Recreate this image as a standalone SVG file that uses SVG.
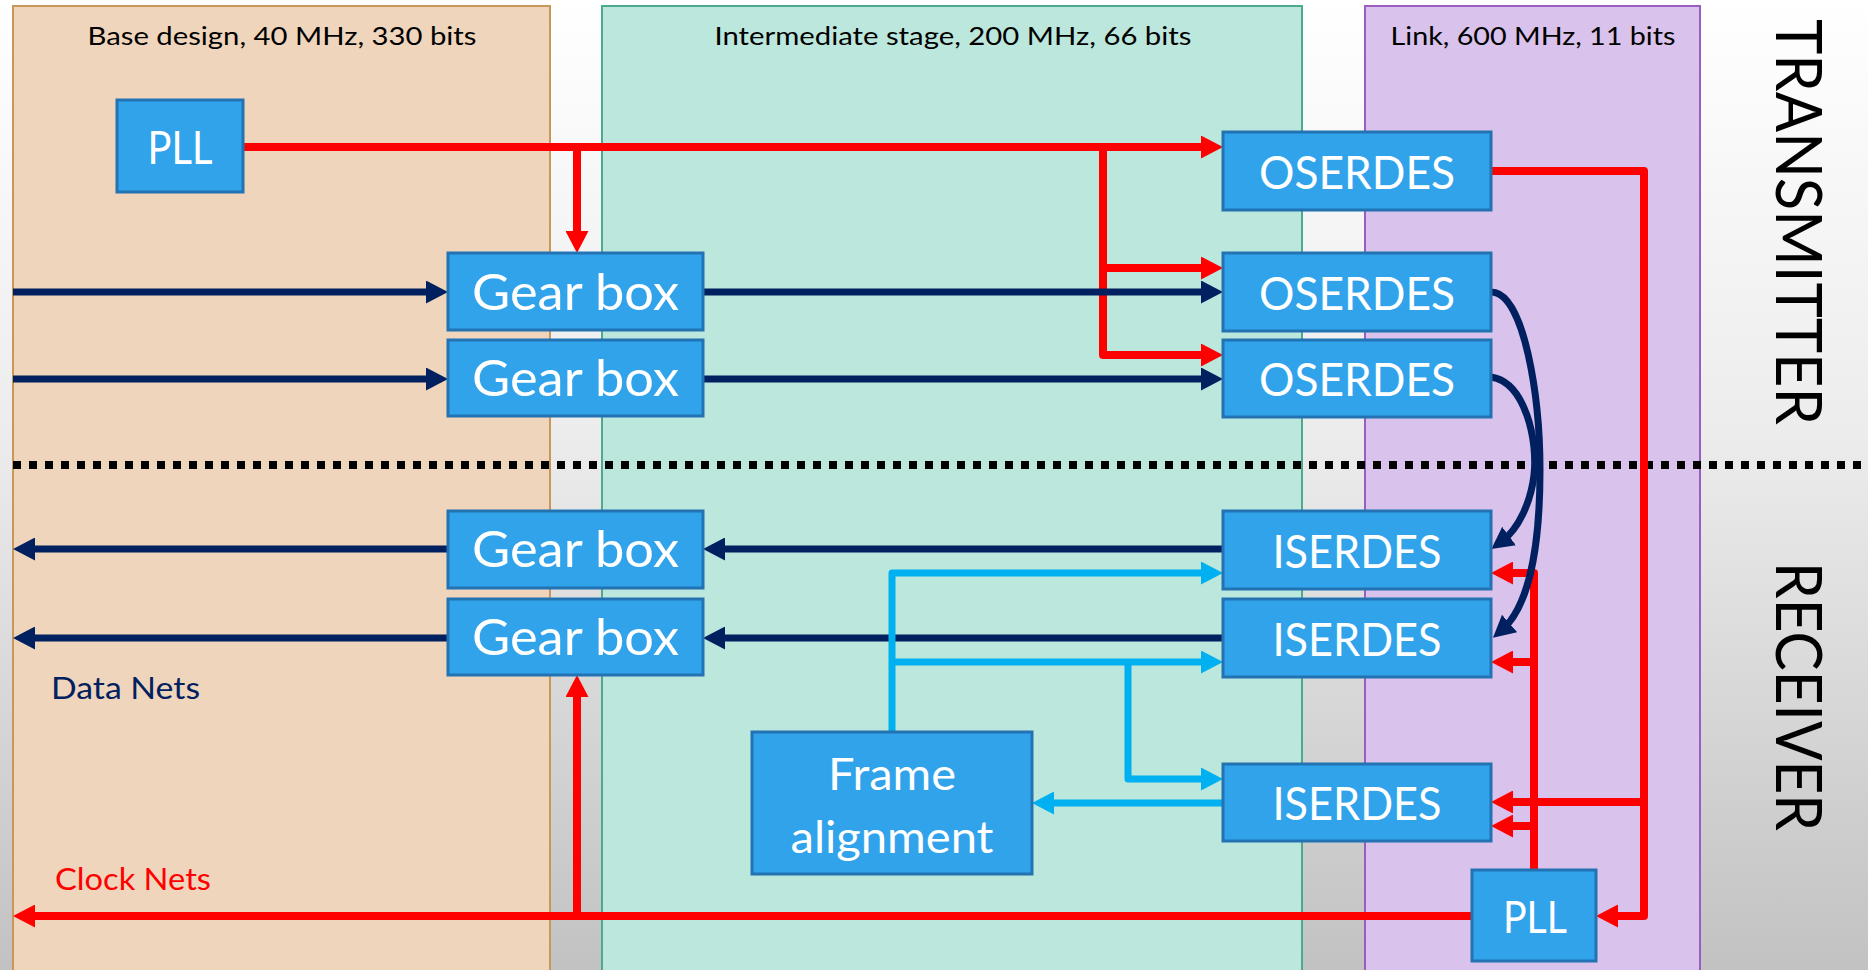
<svg xmlns="http://www.w3.org/2000/svg" width="1868" height="970" viewBox="0 0 1868 970">
<defs>
<linearGradient id="bg" x1="0" y1="0" x2="0" y2="1">
<stop offset="0" stop-color="#ffffff"/>
<stop offset="0.45" stop-color="#ececec"/>
<stop offset="1" stop-color="#c2c2c2"/>
</linearGradient>
<marker id="arR" markerUnits="userSpaceOnUse" markerWidth="22" markerHeight="23" refX="10" refY="11.5" orient="auto"><path d="M0,0 L22,11.5 L0,23 z" fill="#ff0000"/></marker>
<marker id="arN" markerUnits="userSpaceOnUse" markerWidth="22" markerHeight="23" refX="10" refY="11.5" orient="auto"><path d="M0,0 L22,11.5 L0,23 z" fill="#002060"/></marker>
<marker id="arC" markerUnits="userSpaceOnUse" markerWidth="22" markerHeight="23" refX="10" refY="11.5" orient="auto"><path d="M0,0 L22,11.5 L0,23 z" fill="#00b0f0"/></marker>
<style>
text{font-family:Lato,"Liberation Sans",sans-serif}
.box{fill:#31a3eb;stroke:#2373b3;stroke-width:3}
.bt{fill:#ffffff;text-anchor:middle}
.title{fill:#000000;font-size:25px;text-anchor:middle}
.side{fill:#000000;font-size:64px}
.red{fill:none;stroke:#ff0000;stroke-width:8;stroke-linejoin:round}
.navy{fill:none;stroke:#002060;stroke-width:7;stroke-linejoin:round}
.cyan{fill:none;stroke:#00b0f0;stroke-width:7;stroke-linejoin:round}
</style>
</defs>
<rect x="0" y="0" width="1868" height="970" fill="url(#bg)"/>

<g id="panels">
<rect x="13" y="6" width="537" height="970" fill="#efd5bb" stroke="#c8985a" stroke-width="2"/>
<rect x="602" y="6" width="700" height="970" fill="#bce7dc" stroke="#4fa98e" stroke-width="2"/>
<rect x="1365" y="6" width="335" height="970" fill="#d9c2eb" stroke="#9a5ec0" stroke-width="2"/>
<text class="title" x="282" y="45" textLength="389" lengthAdjust="spacingAndGlyphs">Base design, 40 MHz, 330 bits</text>
<text class="title" x="953" y="45" textLength="477" lengthAdjust="spacingAndGlyphs">Intermediate stage, 200 MHz, 66 bits</text>
<text class="title" x="1533" y="45" textLength="285" lengthAdjust="spacingAndGlyphs">Link, 600 MHz, 11 bits</text>
</g>

<g id="divider">
<line x1="13" y1="465" x2="1868" y2="465" stroke="#000000" stroke-width="8" stroke-dasharray="8 8"/>
</g>

<g id="side-labels">
<text class="side" transform="translate(1776,19) rotate(90)" textLength="406" lengthAdjust="spacingAndGlyphs">TRANSMITTER</text>
<text class="side" transform="translate(1776,562) rotate(90)" textLength="269" lengthAdjust="spacingAndGlyphs">RECEIVER</text>
</g>

<g id="connectors">
<!-- clock nets (red) -->
<path class="red" d="M243,147 L1211,147" marker-end="url(#arR)"/>
<path class="red" d="M577,147 L577,241" marker-end="url(#arR)"/>
<path class="red" d="M1103,147 L1103,355 L1211,355" marker-end="url(#arR)"/>
<path class="red" d="M1103,268 L1211,268" marker-end="url(#arR)"/>
<path class="red" d="M1491,171 L1644,171 L1644,916 L1608,916" marker-end="url(#arR)"/>
<path class="red" d="M1644,802 L1503,802" marker-end="url(#arR)"/>
<path class="red" d="M1534,870 L1534,573 L1503,573" marker-end="url(#arR)"/>
<path class="red" d="M1534,662 L1503,662" marker-end="url(#arR)"/>
<path class="red" d="M1534,826 L1503,826" marker-end="url(#arR)"/>
<path class="red" d="M1472,916 L25,916" marker-end="url(#arR)"/>
<path class="red" d="M577,916 L577,687" marker-end="url(#arR)"/>
<!-- data nets (navy) -->
<path class="navy" d="M13,292 L436,292" marker-end="url(#arN)"/>
<path class="navy" d="M13,379 L436,379" marker-end="url(#arN)"/>
<path class="navy" d="M703,292 L1211,292" marker-end="url(#arN)"/>
<path class="navy" d="M703,379 L1211,379" marker-end="url(#arN)"/>
<path class="navy" d="M1223,549 L715,549" marker-end="url(#arN)"/>
<path class="navy" d="M448,549 L25,549" marker-end="url(#arN)"/>
<path class="navy" d="M1223,638 L715,638" marker-end="url(#arN)"/>
<path class="navy" d="M448,638 L25,638" marker-end="url(#arN)"/>
<path class="navy" d="M1491,292 C1525,292 1540,400 1540,470 C1540,560 1525,610 1502,630" marker-end="url(#arN)"/>
<path class="navy" d="M1491,377 C1525,382 1538,440 1534,475 C1531,500 1520,528 1501,542" marker-end="url(#arN)"/>
<!-- alignment nets (cyan) -->
<path class="cyan" d="M892,732 L892,573 L1211,573" marker-end="url(#arC)"/>
<path class="cyan" d="M892,662 L1211,662" marker-end="url(#arC)"/>
<path class="cyan" d="M1128,662 L1128,779 L1211,779" marker-end="url(#arC)"/>
<path class="cyan" d="M1223,803 L1044,803" marker-end="url(#arC)"/>
</g>

<g id="pll-tx"><rect class="box" x="117" y="100" width="126" height="92"/><text class="bt" x="180" y="164" font-size="47" textLength="65" lengthAdjust="spacingAndGlyphs">PLL</text></g>
<g id="gearbox-tx1"><rect class="box" x="448" y="253" width="255" height="77"/><text class="bt" x="575.5" y="310" font-size="50" textLength="207" lengthAdjust="spacingAndGlyphs">Gear box</text></g>
<g id="gearbox-tx2"><rect class="box" x="448" y="340" width="255" height="76"/><text class="bt" x="575.5" y="396" font-size="50" textLength="207" lengthAdjust="spacingAndGlyphs">Gear box</text></g>
<g id="oserdes1"><rect class="box" x="1223" y="132" width="268" height="78"/><text class="bt" x="1357" y="189" font-size="46" textLength="196" lengthAdjust="spacingAndGlyphs">OSERDES</text></g>
<g id="oserdes2"><rect class="box" x="1223" y="253" width="268" height="78"/><text class="bt" x="1357" y="310" font-size="46" textLength="196" lengthAdjust="spacingAndGlyphs">OSERDES</text></g>
<g id="oserdes3"><rect class="box" x="1223" y="340" width="268" height="77"/><text class="bt" x="1357" y="396" font-size="46" textLength="196" lengthAdjust="spacingAndGlyphs">OSERDES</text></g>
<g id="gearbox-rx1"><rect class="box" x="448" y="511" width="255" height="77"/><text class="bt" x="575.5" y="567" font-size="50" textLength="207" lengthAdjust="spacingAndGlyphs">Gear box</text></g>
<g id="gearbox-rx2"><rect class="box" x="448" y="599" width="255" height="76"/><text class="bt" x="575.5" y="655" font-size="50" textLength="207" lengthAdjust="spacingAndGlyphs">Gear box</text></g>
<g id="iserdes1"><rect class="box" x="1223" y="511" width="268" height="78"/><text class="bt" x="1357" y="568" font-size="46" textLength="169" lengthAdjust="spacingAndGlyphs">ISERDES</text></g>
<g id="iserdes2"><rect class="box" x="1223" y="599" width="268" height="78"/><text class="bt" x="1357" y="656" font-size="46" textLength="169" lengthAdjust="spacingAndGlyphs">ISERDES</text></g>
<g id="iserdes3"><rect class="box" x="1223" y="764" width="268" height="77"/><text class="bt" x="1357" y="820" font-size="46" textLength="169" lengthAdjust="spacingAndGlyphs">ISERDES</text></g>
<g id="frame-alignment"><rect class="box" x="752" y="732" width="280" height="142"/><text class="bt" x="892" y="790" font-size="44" textLength="128" lengthAdjust="spacingAndGlyphs">Frame</text><text class="bt" x="892" y="853" font-size="44" textLength="203" lengthAdjust="spacingAndGlyphs">alignment</text></g>
<g id="pll-rx"><rect class="box" x="1472" y="870" width="124" height="91"/><text class="bt" x="1535" y="933" font-size="45" textLength="64" lengthAdjust="spacingAndGlyphs">PLL</text></g>

<g id="legend">
<text x="51" y="699" font-size="30" fill="#002060" textLength="149" lengthAdjust="spacingAndGlyphs">Data Nets</text>
<text x="55" y="890" font-size="30" fill="#ff0000" textLength="156" lengthAdjust="spacingAndGlyphs">Clock Nets</text>
</g>
</svg>
